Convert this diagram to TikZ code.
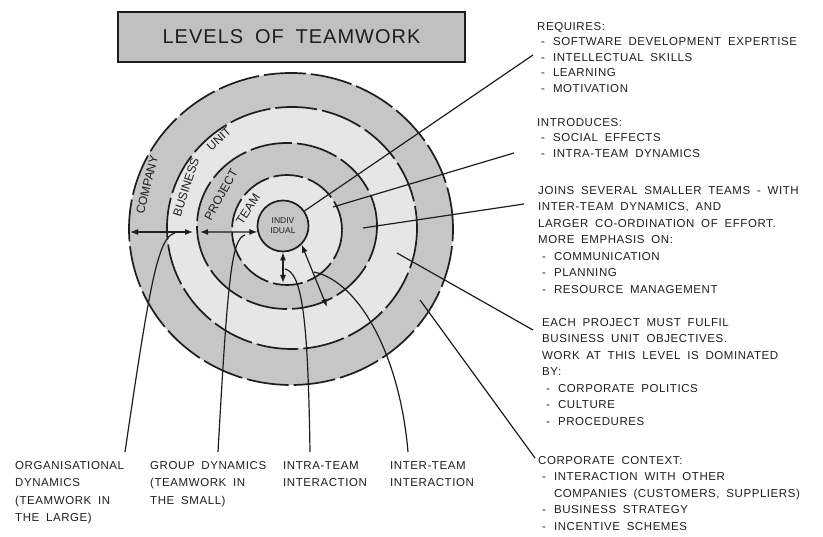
\documentclass[tikz,border=0pt]{standalone}
\usepackage{fontspec}
\setmainfont{Liberation Sans}
\newfontfamily\hand[LetterSpace=5,WordSpace=1.8]{Liberation Sans}
\newfontfamily\handplain{Liberation Sans}
\usetikzlibrary{arrows.meta}
\definecolor{ink}{HTML}{1E1E1E}
\definecolor{ringdark}{HTML}{C6C6C6}
\definecolor{ringlight}{HTML}{E6E6E6}
\definecolor{titlegray}{HTML}{C0C0C0}
\newcommand\dashgap{\hspace*{4pt}-\hspace*{8pt}}
\newcommand\dashskip{\hphantom{\dashgap}}

\begin{document}
\begin{tikzpicture}[x=1pt,y=1pt,
  ring/.style={draw=ink,line width=1.7pt,dash pattern=on 42pt off 5pt},
  lead/.style={draw=ink,line width=1.2pt},
  twoway/.style={draw=ink,line width=1.2pt,{Latex[length=8pt,width=6pt]}-{Latex[length=8pt,width=6pt]}},
  note/.style={anchor=north west,inner sep=0pt,align=left,text=ink,
    font=\hand\fontsize{11.5}{16.5}\selectfont},
  ringlabel/.style={inner sep=0pt,text=ink,font=\handplain\fontsize{12}{13}\selectfont}]
  \fill[white] (0,0) rectangle (823,537);
  \useasboundingbox (0,0) rectangle (823,537);

  % Title
  \node[draw=ink,fill=titlegray,line width=1.7pt,minimum width=347pt,
    minimum height=50pt,inner sep=0pt,text=ink,
    font=\hand\fontsize{20}{24}\selectfont] (title) at (291.5,500)
    {LEVELS OF TEAMWORK};

  % Rings
  \coordinate (cCo) at (291,308);
  \coordinate (cBu) at (292,309);
  \coordinate (cPr) at (287,311);
  \coordinate (cTe) at (287,307);
  \fill[ringdark] (cCo) ellipse[x radius=162pt,y radius=156pt];
  \fill[ringlight] (cBu) ellipse[x radius=125pt,y radius=121pt];
  \fill[ringdark] (cPr) ellipse[x radius=90pt,y radius=83pt];
  \fill[ringlight] (cTe) ellipse[x radius=55pt,y radius=55pt];
  \draw[ring] (cCo) ellipse[x radius=162pt,y radius=156pt];
  \draw[ring,dash phase=20pt] (cBu) ellipse[x radius=125pt,y radius=121pt];
  \draw[ring,dash phase=10pt] (cPr) ellipse[x radius=90pt,y radius=83pt];
  \draw[ring,dash pattern=on 30pt off 5pt] (cTe) ellipse[x radius=55pt,y radius=55pt];
  \node[circle,draw=ink,fill=ringdark,line width=1.7pt,minimum size=51pt,
    inner sep=0pt,align=center,text=ink,
    font=\handplain\fontsize{8.5}{10}\selectfont] (indiv) at (283,311) {INDIV\\IDUAL};

  % Ring names
  \node[ringlabel,rotate=76] (company) at (147,352) {COMPANY};
  \node[ringlabel,rotate=72] (business) at (186,350) {BUSINESS};
  \node[ringlabel,rotate=42] (unit) at (219,398) {UNIT};
  \node[ringlabel,rotate=61] (project) at (221,342) {PROJECT};
  \node[ringlabel,rotate=57] (team) at (248,328) {TEAM};

  % Span arrows
  \coordinate (coL) at (130,305);
  \coordinate (buM) at (193,305);
  \coordinate (prM) at (200,305);
  \coordinate (teB) at (283,254);
  \coordinate (prB) at (327,230);
  \draw[twoway] (coL) -- (buM);
  \draw[twoway] (prM) -- (indiv.193);
  \draw[twoway] (indiv.south) -- (teB);
  \draw[twoway] (indiv.-45) -- (prB);

  % Right notes
  \node[note,font=\hand\fontsize{11.5}{15.5}\selectfont] (requires) at (537,515)
    {REQUIRES:\\\dashgap SOFTWARE DEVELOPMENT EXPERTISE\\\dashgap INTELLECTUAL SKILLS\\
     \dashgap LEARNING\\\dashgap MOTIVATION};
  \node[note,font=\hand\fontsize{11.5}{15.5}\selectfont] (introduces) at (537,419)
    {INTRODUCES:\\\dashgap SOCIAL EFFECTS\\\dashgap INTRA-TEAM DYNAMICS};
  \node[note] (joins) at (538,351)
    {JOINS SEVERAL SMALLER TEAMS - WITH\\INTER-TEAM DYNAMICS, AND\\
     LARGER CO-ORDINATION OF EFFORT.\\MORE EMPHASIS ON:\\\dashgap COMMUNICATION\\
     \dashgap PLANNING\\\dashgap RESOURCE MANAGEMENT};
  \node[note] (fulfil) at (542,219)
    {EACH PROJECT MUST FULFIL\\BUSINESS UNIT OBJECTIVES.\\
     WORK AT THIS LEVEL IS DOMINATED\\BY:\\\dashgap CORPORATE POLITICS\\
     \dashgap CULTURE\\\dashgap PROCEDURES};
  \node[note] (context) at (538,81)
    {CORPORATE CONTEXT:\\\dashgap INTERACTION WITH OTHER\\
     \dashskip COMPANIES (CUSTOMERS, SUPPLIERS)\\\dashgap BUSINESS STRATEGY\\
     \dashgap INCENTIVE SCHEMES};

  % Leaders to right notes
  \coordinate (aE) at (533,482);
  \coordinate (bS) at (333,330);
  \coordinate (bE) at (514,384);
  \coordinate (cS) at (363,309);
  \coordinate (cE) at (524,333);
  \coordinate (dS) at (397,284);
  \coordinate (dE) at (533,207);
  \coordinate (eS) at (420,237);
  \coordinate (eE) at (535,79);
  \draw[lead] (indiv.35) -- (aE);
  \draw[lead] (bS) -- (bE);
  \draw[lead] (cS) -- (cE);
  \draw[lead] (dS) -- (dE);
  \draw[lead] (eS) -- (eE);

  % Bottom notes
  \node[note,font=\hand\fontsize{11.5}{17.5}\selectfont] (orgdyn) at (15,76)
    {ORGANISATIONAL\\DYNAMICS\\(TEAMWORK IN\\THE LARGE)};
  \node[note,font=\hand\fontsize{11.5}{17.5}\selectfont] (grpdyn) at (150,76)
    {GROUP DYNAMICS\\(TEAMWORK IN\\THE SMALL)};
  \node[note,font=\hand\fontsize{11.5}{17.5}\selectfont] (intra) at (283,76)
    {INTRA-TEAM\\INTERACTION};
  \node[note,font=\hand\fontsize{11.5}{17.5}\selectfont] (inter) at (390,76)
    {INTER-TEAM\\INTERACTION};

  % Leaders to bottom notes
  \coordinate (l1S) at (175,304);
  \coordinate (l1E) at (125,85);
  \coordinate (l2S) at (245,302);
  \coordinate (l2E) at (218,85);
  \coordinate (l3S) at (285,268);
  \coordinate (l3E) at (310,85);
  \coordinate (l4S) at (314,265);
  \coordinate (l4E) at (408,85);
  \draw[lead] (l1S) .. controls (158,300) and (150,255) .. (l1E);
  \draw[lead] (l2S) .. controls (232,298) and (228,265) .. (l2E);
  \draw[lead] (l3S) .. controls (302,264) and (308,220) .. (l3E);
  \draw[lead] (l4S) .. controls (360,255) and (400,180) .. (l4E);
\end{tikzpicture}
\end{document}
